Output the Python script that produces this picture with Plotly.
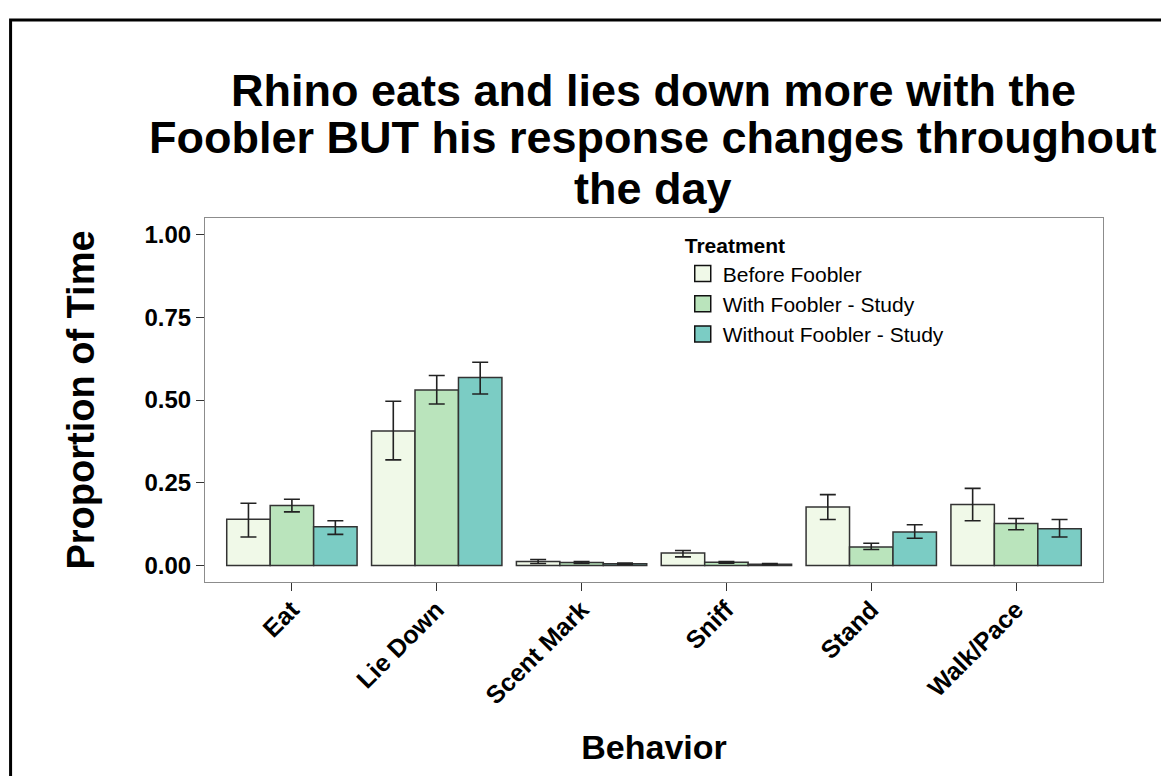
import plotly.graph_objects as go

behaviors = ["Eat", "Lie Down", "Scent Mark", "Sniff", "Stand", "Walk/Pace"]
treatments = ["Before Foobler", "With Foobler - Study", "Without Foobler - Study"]
colors = ["#f0f9e8", "#bae4bc", "#7bccc4"]

before_mean = [0.140, 0.406, 0.012, 0.038, 0.177, 0.184]
before_hi = [0.188, 0.496, 0.018, 0.045, 0.214, 0.233]
before_lo = [0.086, 0.319, 0.006, 0.026, 0.139, 0.135]

with_mean = [0.181, 0.530, 0.009, 0.010, 0.056, 0.127]
with_hi = [0.200, 0.574, 0.012, 0.012, 0.067, 0.142]
with_lo = [0.162, 0.488, 0.006, 0.007, 0.048, 0.108]

without_mean = [0.117, 0.568, 0.005, 0.004, 0.101, 0.111]
without_hi = [0.135, 0.614, 0.007, 0.006, 0.123, 0.139]
without_lo = [0.094, 0.518, 0.003, 0.002, 0.082, 0.086]

y_ticks = [0, 0.25, 0.5, 0.75, 1.0]
y_ticklabels = ["0.00", "0.25", "0.50", "0.75", "1.00"]

title_lines = ["Rhino eats and lies down more with the",
               "Foobler BUT his response changes throughout",
               "the day"]

series = [
    (before_mean, before_hi, before_lo),
    (with_mean, with_hi, with_lo),
    (without_mean, without_hi, without_lo),
]

FONT = "Liberation Sans, Arial, sans-serif"

fig = go.Figure()
for name, col, (m, hi, lo) in zip(treatments, colors, series):
    fig.add_trace(go.Bar(
        x=behaviors, y=m, name=name, legendgroup=name, showlegend=False,
        marker=dict(color=col, line=dict(color="#333333", width=1.5)),
        error_y=dict(type="data", symmetric=False,
                     array=[h - v for h, v in zip(hi, m)],
                     arrayminus=[v - l for v, l in zip(m, lo)],
                     color="#222222", thickness=1.6, width=8),
    ))
    fig.add_trace(go.Scatter(
        x=[None], y=[None], mode="markers", name=name, legendgroup=name,
        marker=dict(symbol="square", size=16, color=col,
                    line=dict(color="#111111", width=1.5)),
    ))

fig.update_layout(
    width=1161, height=768,
    margin=dict(l=197, r=66, t=210, b=194),
    paper_bgcolor="white", plot_bgcolor="white",
    barmode="group", bargap=0.1, bargroupgap=0,
    font=dict(family=FONT, color="black"),
    showlegend=True,
    legend=dict(
        x=0.532, y=0.978, xanchor="left", yanchor="top",
        bgcolor="rgba(0,0,0,0)",
        title=dict(text="<b>Treatment</b>", font=dict(size=21, family=FONT)),
        font=dict(size=21, family=FONT),
        itemsizing="trace", tracegroupgap=0,
    ),
    xaxis=dict(
        range=[-0.6, 5.6], showline=True, mirror=True, linecolor="#8c8c8c", linewidth=1.2,
        ticks="outside", ticklen=8, tickcolor="#333333", tickwidth=1,
        tickangle=-45, tickfont=dict(size=25, family=FONT, weight="bold"),
        ticklabelstandoff=-6,
        title=dict(text="<b>Behavior</b>", font=dict(size=34, family=FONT), standoff=26),
        showgrid=False, zeroline=False,
    ),
    yaxis=dict(
        range=[-0.05, 1.05], showline=True, mirror=True, linecolor="#8c8c8c", linewidth=1.2,
        ticks="outside", ticklen=8, tickcolor="#333333", tickwidth=1,
        tickvals=y_ticks, ticktext=y_ticklabels,
        tickfont=dict(size=24, family=FONT, weight="bold"),
        title=dict(text="<b>Proportion of Time</b>", font=dict(size=38, family=FONT), standoff=38),
        showgrid=False, zeroline=False,
    ),
)

title_y = [1.349, 1.220, 1.082]
for line, yy in zip(title_lines, title_y):
    fig.add_annotation(
        text="<b>" + line + "</b>", xref="paper", yref="paper",
        x=0.499, y=yy, xanchor="center", yanchor="middle", showarrow=False,
        font=dict(size=45, family=FONT, color="black"),
    )

fig.add_shape(type="rect", xref="paper", yref="paper",
              x0=-0.2165, x1=1.09, y0=-0.62, y1=1.544,
              line=dict(color="black", width=3), fillcolor="rgba(0,0,0,0)", layer="above")

fig.write_html("out.html")
